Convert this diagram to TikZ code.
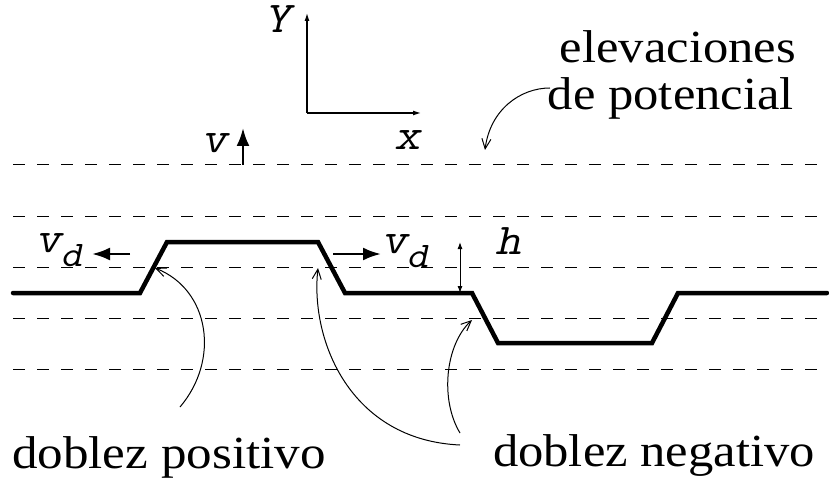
\documentclass[tikz,border=0pt]{standalone}
\usepackage{fontspec}
\setmainfont{Liberation Serif}
\usetikzlibrary{arrows.meta}
\newcommand\mlab[4]{\begin{scope}[shift={#2}]\node[#3, slantlbl] (#1) at (0,0) {#4};\end{scope}}
\newcommand\subd{\kern2pt\raisebox{-14pt}{\fontsize{36}{36}\selectfont d}}
\begin{document}
\begin{tikzpicture}[x=1pt,y=-1pt,
  dline/.style={line width=1pt, dash pattern=on 12pt off 12pt},
  wave/.style={line width=4.5pt, line cap=round},
  lbl/.style={inner sep=0pt, anchor=base west, font=\fontsize{44}{44}\selectfont\ttfamily},
  slantlbl/.style={transform shape, xslant=0.22, xscale=1.15},
  txt/.style={inner sep=0pt, font=\fontsize{46}{46}\selectfont},
  pointer/.style={line width=1pt, -{Straight Barb[length=10pt,width=9pt]}},
  bigarrow/.style={line width=2.6pt, -{Latex[length=18pt,width=13pt]}},
  axis/.style={line width=1.2pt, -{Latex[length=8pt,width=5pt]}},
  harrow/.style={line width=1pt, {Latex[length=7pt,width=5pt]}-{Latex[length=7pt,width=5pt]}}]
\useasboundingbox (0,0) rectangle (829,489);

% dashed levels
\foreach \yy in {165,216,267,318,369}
  \draw[dline] (13,\yy) -- (822,\yy);

% kinked line
\draw[wave] (13,293) -- (140,293) -- (167,242) -- (318,242) -- (345,293)
  -- (472,293) -- (498,343) -- (652,343) -- (678,293) -- (827,293);

% axes
\coordinate (o) at (307,113);
\coordinate (ytop) at (307,13);
\coordinate (xend) at (421,113);
\draw[axis] (o) -- (ytop);
\draw[axis] (o) -- (xend);
\mlab{ylab}{(264,33)}{lbl}{Y}
\mlab{xlab}{(394,150)}{lbl}{x}

% v arrow
\coordinate (va) at (243,165);
\coordinate (vb) at (243,128);
\draw[bigarrow] (va) -- (vb);
\mlab{vlab}{(201,153)}{lbl}{v}

% vd arrows
\coordinate (l1) at (130,254);
\coordinate (l2) at (92,254);
\draw[bigarrow] (l1) -- (l2);
\mlab{vdl}{(35,252)}{lbl}{v\subd}
\coordinate (r1) at (333,254);
\coordinate (r2) at (381,254);
\draw[bigarrow] (r1) -- (r2);
\mlab{vdr}{(381,253)}{lbl}{v\subd}

% h
\coordinate (h1) at (460,242);
\coordinate (h2) at (460,293);
\draw[harrow] (h1) -- (h2);
\mlab{hlab}{(495,254)}{lbl}{h}

% texts
\node[txt, anchor=base east] (elev) at (796,63) {\scalebox{1.1}[1]{elevaciones}};
\node[txt, anchor=base east] (pot) at (794,110) {\scalebox{1.1}[1]{de potencial}};
\node[txt, anchor=base west] (pos) at (12,468) {\scalebox{1.11}[1]{doblez positivo}};
\node[txt, anchor=base east] (neg) at (815,466) {\scalebox{1.1}[1]{doblez negativo}};

% pointers
\coordinate (k1) at (155,268);
\coordinate (k2) at (318,268);
\coordinate (k3) at (472,320);
\coordinate (ke) at (485,150);
\coordinate (s1) at (180,407);
\coordinate (s2) at (460,445);
\coordinate (s3) at (460,433);
\coordinate (se) at (550,88);
\draw[pointer] (s1) .. controls (220,360) and (210,290) .. (k1);
\draw[pointer] (s2) .. controls (350,440) and (310,340) .. (k2);
\draw[pointer] (s3) .. controls (440,400) and (445,345) .. (k3);
\draw[pointer] (se) .. controls (520,88) and (490,110) .. (ke);
\end{tikzpicture}
\end{document}
